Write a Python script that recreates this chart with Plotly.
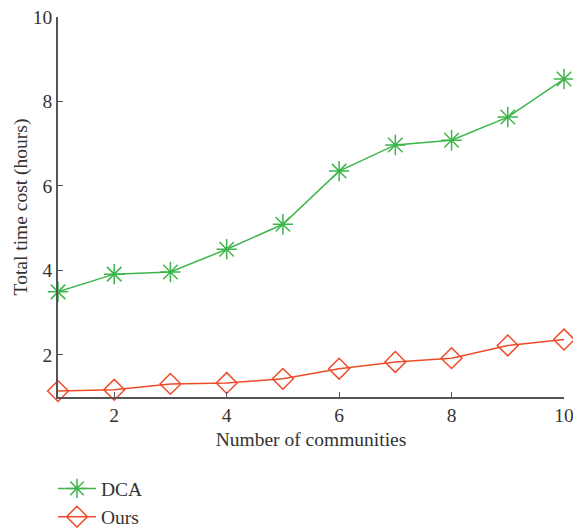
import plotly.graph_objects as go

communities = [1, 2, 3, 4, 5, 6, 7, 8, 9, 10]
dca_hours = [3.49, 3.91, 3.96, 4.50, 5.09, 6.35, 6.97, 7.08, 7.63, 8.53]
ours_hours = [1.14, 1.17, 1.31, 1.33, 1.43, 1.67, 1.83, 1.92, 2.22, 2.36]

GREEN = "#3db54a"
RED = "#ef4a2a"
AXIS = "#555555"
TEXT = "#333333"
FONT = "Liberation Serif"
FS = 19.5

fig = go.Figure()
fig.add_trace(go.Scatter(
    x=communities, y=dca_hours, name="DCA", mode="lines+markers",
    line=dict(color=GREEN, width=1.5),
    marker=dict(symbol="asterisk-open", size=17, color=GREEN,
                line=dict(color=GREEN, width=1.5)),
    cliponaxis=False,
))
fig.add_trace(go.Scatter(
    x=communities, y=ours_hours, name="Ours", mode="lines+markers",
    line=dict(color=RED, width=1.5),
    marker=dict(symbol="diamond-open", size=16, color=RED,
                line=dict(color=RED, width=1.5)),
    cliponaxis=False,
))

axis_common = dict(
    showgrid=False, zeroline=False, showline=True, linecolor=AXIS, linewidth=1.5,
    ticks="inside", ticklen=5, tickwidth=1.2, tickcolor=AXIS, automargin=False,
    ticklabeloverflow="allow",
    tickfont=dict(family=FONT, size=FS, color=TEXT),
)

fig.update_layout(
    width=573, height=528,
    margin=dict(l=58, r=9, t=17, b=131, autoexpand=False),
    paper_bgcolor="white", plot_bgcolor="white",
    font=dict(family=FONT, size=FS, color=TEXT),
    xaxis=dict(range=[1, 10], tickvals=[2, 4, 6, 8, 10],
               title=dict(text="Number of communities", standoff=7,
                          font=dict(family=FONT, size=FS, color=TEXT)),
               **axis_common),
    yaxis=dict(range=[1, 10], tickvals=[2, 4, 6, 8, 10],
               title=dict(text="Total time cost (hours)", standoff=0,
                          font=dict(family=FONT, size=FS, color=TEXT)),
               **axis_common),
    legend=dict(x=-0.0099, y=-0.19, xanchor="left", yanchor="top",
                orientation="v", bgcolor="rgba(0,0,0,0)",
                font=dict(family=FONT, size=FS, color=TEXT),
                tracegroupgap=0, itemwidth=38),
    showlegend=True,
)

fig.write_html("out.html")
